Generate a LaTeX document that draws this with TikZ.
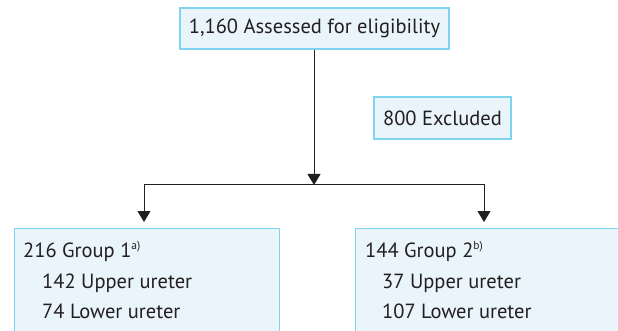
\documentclass[tikz,border=0pt]{standalone}
\usepackage{fontspec}
\setmainfont{PT Sans}
\usetikzlibrary{arrows.meta,calc}
\definecolor{boxfill}{HTML}{E9F5FB}
\definecolor{boxline}{HTML}{7FD4EF}
\definecolor{ink}{HTML}{231F20}
\newcommand{\fnmark}[1]{\raisebox{7.5pt}{\fontsize{11.5}{12}\selectfont #1}}
\tikzset{
  box/.style={draw=boxline, fill=boxfill, line width=1.4pt, inner sep=0pt, text=ink},
  label/.style={text=ink, inner sep=0pt, anchor=base west},
  arr/.style={draw=ink, line width=1pt, -{Triangle[width=13pt,length=11pt]}},
}
\begin{document}
\begin{tikzpicture}[x=1pt,y=-1pt, font=\fontsize{20.5}{24}\selectfont]
\useasboundingbox (0,0) rectangle (618,331);
\clip (0,0) rectangle (618,331);
% top and side boxes
\node[box, minimum width=269pt, minimum height=41pt] (top) at (314.5,28.5) {1,160 Assessed for eligibility};
\node[box, minimum width=137pt, minimum height=42pt] (excl) at (442.5,118) {800 Excluded};
% group boxes, running past the lower and right edges
\node[box, anchor=north west, minimum width=265pt, minimum height=130pt] (g1) at (14,228) {};
\node[box, anchor=north west, minimum width=290pt, minimum height=130pt] (g2) at (355,228) {};
% group contents
\node[label] (g1a) at ([xshift=9pt,yshift=-29pt]g1.north west) {216 Group 1\fnmark{a)}};
\node[label] (g1b) at ([xshift=28pt,yshift=-60pt]g1.north west) {142 Upper ureter};
\node[label] (g1c) at ([xshift=28pt,yshift=-90pt]g1.north west) {74 Lower ureter};
\node[label] (g2a) at ([xshift=10pt,yshift=-29pt]g2.north west) {144 Group 2\fnmark{b)}};
\node[label] (g2b) at ([xshift=27pt,yshift=-60pt]g2.north west) {37 Upper ureter};
\node[label] (g2c) at ([xshift=27pt,yshift=-90pt]g2.north west) {107 Lower ureter};
% connectors
\coordinate (j) at (314,185);
\coordinate (t1) at ([xshift=130pt]g1.north west);
\coordinate (t2) at ([xshift=129pt]g2.north west);
\draw[arr] (top.south -| j) -- (j);
\draw[arr, shorten >=6pt] (j) -| (t1);
\draw[arr, shorten >=6pt] (j) -| (t2);
\end{tikzpicture}
\end{document}
